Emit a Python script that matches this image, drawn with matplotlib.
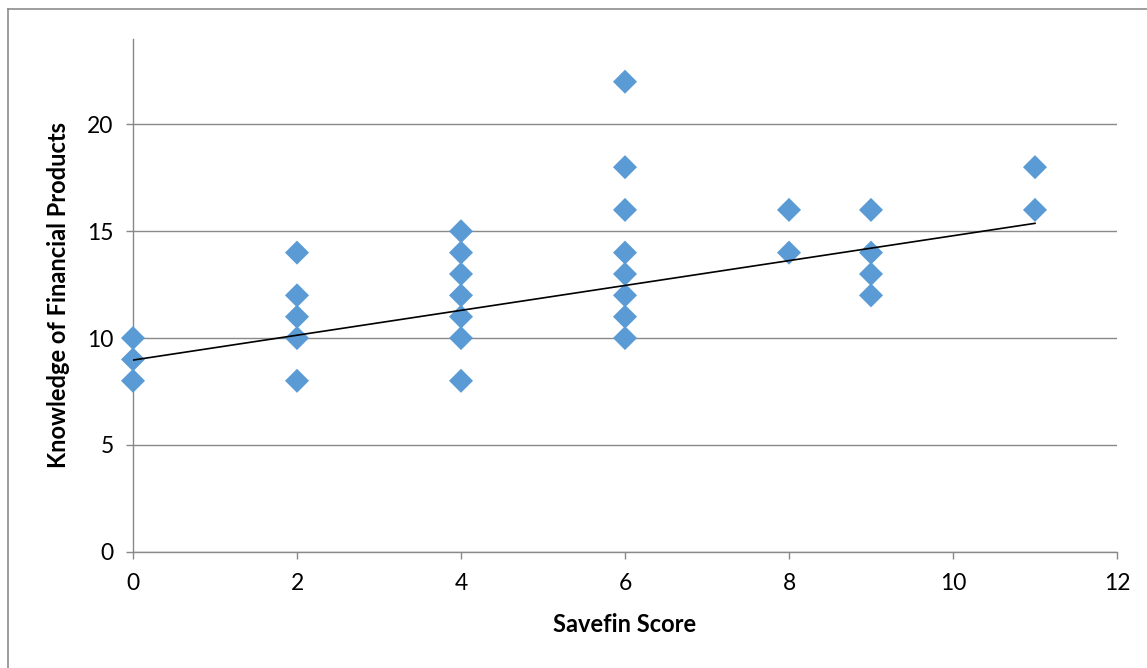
import matplotlib
matplotlib.use("Agg")
import matplotlib.pyplot as plt
from matplotlib.lines import Line2D

# Savefin score vs. knowledge of financial products
savefin = [0, 0, 0,
           2, 2, 2, 2, 2,
           4, 4, 4, 4, 4, 4, 4,
           6, 6, 6, 6, 6, 6, 6, 6,
           8, 8,
           9, 9, 9, 9,
           11, 11]
knowledge = [10, 9, 8,
             14, 12, 11, 10, 8,
             15, 14, 13, 12, 11, 10, 8,
             22, 18, 16, 14, 13, 12, 11, 10,
             16, 14,
             16, 14, 13, 12,
             18, 16]

# linear trendline: intercept and slope
trend_intercept = 8.97
trend_slope = 0.582
trend_x = [0, 11]

x_ticks = [0, 2, 4, 6, 8, 10, 12]
y_ticks = [0, 5, 10, 15, 20]

plt.rcParams['font.family'] = ['Lato', 'DejaVu Sans']

fig = plt.figure(figsize=(11.47, 6.68), dpi=100)
ax = fig.add_axes([133/1147, 1 - 551.7/668, (1117 - 133)/1147, (551.7 - 39)/668])

grid_c = '#898989'
ax.set_xlim(0, 12)
ax.set_ylim(0, 24)
ax.set_xticks(x_ticks)
ax.set_yticks(y_ticks)
ax.yaxis.grid(True, color=grid_c, linewidth=1.0)
ax.set_axisbelow(True)

for s in ['top', 'right']:
    ax.spines[s].set_visible(False)
for s in ['left', 'bottom']:
    ax.spines[s].set_color(grid_c)
    ax.spines[s].set_linewidth(1.0)

ax.tick_params(axis='both', direction='out', length=5, width=1.0, color=grid_c,
               labelsize=16.5, labelcolor='black')
ax.tick_params(axis='x', pad=10)
ax.tick_params(axis='y', pad=9)

ax.scatter(savefin, knowledge, marker='D', s=150, color='#5B9BD5',
           edgecolors='none', zorder=3, clip_on=False)

trend_y = [trend_intercept + trend_slope * v for v in trend_x]
ax.plot(trend_x, trend_y, color='black', linewidth=1.2, zorder=4)

ax.set_xlabel('Savefin Score', fontsize=17, fontweight='bold', labelpad=14)
ax.set_ylabel('Knowledge of Financial Products', fontsize=17, fontweight='bold', labelpad=12)

# chart frame (left and top edges)
fig.add_artist(Line2D([8/1147, 8/1147], [0, 1 - 9/668], transform=fig.transFigure,
                      color='#8c8c8c', linewidth=1.2))
fig.add_artist(Line2D([8/1147, 1], [1 - 9/668, 1 - 9/668], transform=fig.transFigure,
                      color='#8c8c8c', linewidth=1.2))

fig.savefig('out.png', dpi=100)
